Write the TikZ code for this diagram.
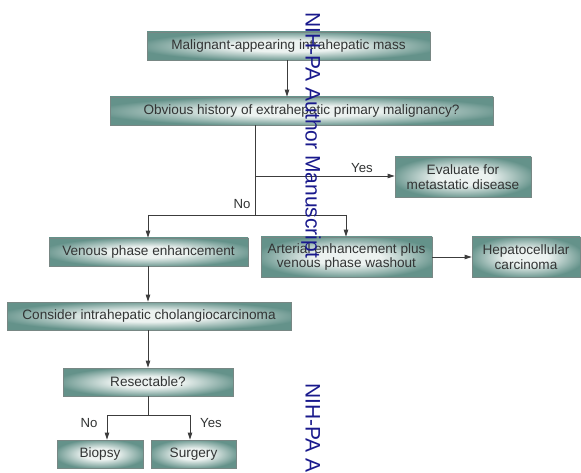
\documentclass[tikz,border=0pt]{standalone}
\usepackage{fontspec}
\setmainfont{Liberation Sans}
\usetikzlibrary{arrows.meta}
\definecolor{boxin}{RGB}{236,242,240}
\definecolor{boxout}{RGB}{100,146,138}
\definecolor{boxline}{RGB}{120,135,132}
\definecolor{txt}{RGB}{50,52,52}
\definecolor{lin}{RGB}{60,60,60}
\definecolor{wm}{RGB}{25,25,140}
\pgfdeclareradialshading{boxshade}{\pgfpoint{0bp}{0bp}}{color(0bp)=(boxin); color(10bp)=(boxin); color(27bp)=(boxout); color(50bp)=(boxout)}
\begin{document}
\begin{tikzpicture}[x=1pt,y=-1pt,
  fbox/.style={draw=boxline, line width=0.8pt, shading=boxshade, text=txt, inner sep=0pt,
    font=\fontsize{13.6}{14.5}\selectfont, align=center},
  arr/.style={draw=lin, line width=0.9pt, -{Triangle[length=7pt,width=4.5pt]}},
  ln/.style={draw=lin, line width=0.9pt},
  lab/.style={text=txt, font=\fontsize{13.2}{14}\selectfont, inner sep=0pt},
  wmark/.style={text=wm, font=\fontsize{21}{21}\selectfont, rotate=-90, anchor=base west, inner sep=0pt}]
\fill[white] (0,0) rectangle (581,473);
\useasboundingbox (0,0) rectangle (581,473);

\node[fbox, minimum width=283pt, minimum height=28pt] (m1) at (288.5,46) {Malignant-appearing intrahepatic mass};
\node[fbox, minimum width=383pt, minimum height=28pt] (m2) at (301.5,111) {Obvious history of extrahepatic primary malignancy?};
\node[fbox, minimum width=136pt, minimum height=40pt] (ev) at (463,177) {Evaluate for\\metastatic disease};
\node[fbox, minimum width=171pt, minimum height=40pt] (art) at (346.5,257) {Arterial enhancement plus\\venous phase washout};
\node[fbox, minimum width=108pt, minimum height=40pt] (hcc) at (526,257) {Hepatocellular\\carcinoma};
\node[fbox, minimum width=199pt, minimum height=28pt] (ven) at (148.5,252) {Venous phase enhancement};
\node[fbox, minimum width=284pt, minimum height=28pt] (cons) at (149,316) {Consider intrahepatic cholangiocarcinoma};
\node[fbox, minimum width=170pt, minimum height=28pt] (res) at (148,382) {Resectable?};
\node[fbox, minimum width=86pt, minimum height=28pt] (bio) at (100,454) {Biopsy};
\node[fbox, minimum width=85pt, minimum height=28pt] (sur) at (193.5,454) {Surgery};

\coordinate (j1) at (255,176);
\coordinate (j2) at (255,215);
\coordinate (jl) at (148,215);
\coordinate (jr) at (346,215);
\coordinate (k0) at (148,415);
\coordinate (kl) at (107,415);
\coordinate (kr) at (190,415);

\draw[arr] (m1.south -| 287,0) -- (m2.north -| 287,0);
\draw[ln] (m2.south -| j1) -- (j2);
\draw[arr] (j1) -- (j1 -| ev.west);
\node[lab] (yes1) at (362,168) {Yes};
\draw[ln] (jl) -- (jr);
\draw[arr] (jl) -- (jl |- ven.north);
\draw[arr] (jr) -- (jr |- art.north);
\node[lab] (no1) at (242,204) {No};
\draw[arr] (art.east) -- (hcc.west);
\draw[arr] (ven.south -| jl) -- (cons.north -| jl);
\draw[arr] (cons.south -| jl) -- (res.north -| jl);
\draw[ln] (res.south -| k0) -- (k0);
\draw[ln] (kl) -- (kr);
\draw[arr] (kl) -- (kl |- bio.north);
\draw[arr] (kr) -- (kr |- sur.north);
\node[lab] (no2) at (89,423) {No};
\node[lab] (yes2) at (211,423) {Yes};

\node[wmark] (w1) at (305.5,12) {NIH-PA Author Manuscript};
\node[wmark] (w2) at (305.5,383) {NIH-PA A};
\end{tikzpicture}
\end{document}
